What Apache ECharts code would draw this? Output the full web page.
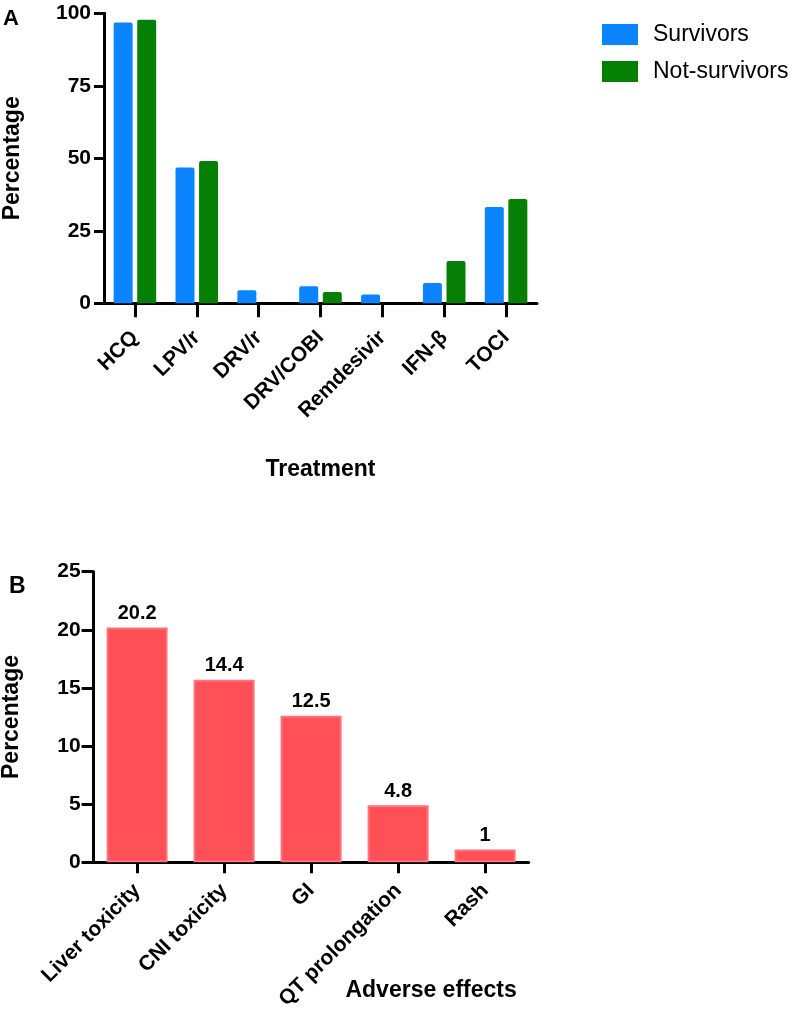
<!DOCTYPE html>
<html>
<head>
<meta charset="utf-8">
<script src="https://cdn.jsdelivr.net/npm/echarts@6/dist/echarts.min.js"></script>
<style>
html,body{margin:0;padding:0;background:#fff;}
#c{width:796px;height:1012px;}
</style>
</head>
<body>
<div id="c"></div>
<script>
// ---- Panel A data ----
const treatments = ['HCQ', 'LPV/r', 'DRV/r', 'DRV/COBI', 'Remdesivir', 'IFN-β', 'TOCI'];
const survivors = [96.8, 46.8, 4.5, 5.9, 3.0, 7.0, 33.2];
const notSurvivors = [97.8, 49.1, 0, 3.9, 0, 14.6, 36.0];
const yTicksA = [0, 25, 50, 75, 100];

// ---- Panel B data ----
const adverseEffects = ['Liver toxicity', 'CNI toxicity', 'GI', 'QT prolongation', 'Rash'];
const adverseValues = [20.2, 15.7, 12.6, 4.9, 1.1];
const adverseLabels = ['20.2', '14.4', '12.5', '4.8', '1'];
const yTicksB = [0, 5, 10, 15, 20, 25];

const FONT = 'Liberation Sans, Arial, Helvetica, sans-serif';
const axisLine = { show: true, lineStyle: { color: '#000', width: 3 } };

const chart = echarts.init(document.getElementById('c'), null, { renderer: 'canvas' });
chart.setOption({
  backgroundColor: '#fff',
  animation: false,
  legend: {
    data: ['Survivors', 'Not-survivors'],
    orient: 'vertical',
    left: 602, top: 23, padding: 0,
    itemWidth: 36, itemHeight: 21, itemGap: 14,
    icon: 'rect',
    textStyle: { fontFamily: FONT, fontSize: 23, color: '#000', padding: [0, 0, 0, 10] }
  },
  graphic: [
    { type: 'text', left: 3, top: 8, style: { text: 'A', font: 'bold 22px ' + FONT, fill: '#000' } },
    { type: 'text', left: 9, top: 575, style: { text: 'B', font: 'bold 23px ' + FONT, fill: '#000' } }
  ],
  grid: [
    { left: 104, top: 13.3, width: 433, height: 290, outerBoundsMode: 'none', containLabel: false },
    { left: 93.6, top: 571.7, width: 435, height: 290.6, outerBoundsMode: 'none', containLabel: false }
  ],
  xAxis: [
    {
      gridIndex: 0, type: 'category', data: treatments,
      name: 'Treatment', nameLocation: 'middle', nameGap: 155, nameMoveOverlap: false,
      nameTextStyle: { fontFamily: FONT, fontWeight: 'bold', fontSize: 23, color: '#000' },
      axisLine: axisLine,
      axisTick: { show: true, alignWithLabel: true, length: 14, lineStyle: { color: '#000', width: 3 } },
      axisLabel: { rotate: 45, margin: 31, interval: 0, fontFamily: FONT, fontWeight: 'bold', fontSize: 21, color: '#000' }
    },
    {
      gridIndex: 1, type: 'category', data: adverseEffects,
      name: 'Adverse effects', nameLocation: 'middle', nameGap: 117, nameMoveOverlap: false,
      nameTextStyle: { fontFamily: FONT, fontWeight: 'bold', fontSize: 23, color: '#000', padding: [0, 0, 0, 240] },
      axisLine: axisLine,
      axisTick: { show: true, alignWithLabel: true, length: 11, lineStyle: { color: '#000', width: 3 } },
      axisLabel: { rotate: 45, margin: 25, interval: 0, fontFamily: FONT, fontWeight: 'bold', fontSize: 21, color: '#000' }
    }
  ],
  yAxis: [
    {
      gridIndex: 0, type: 'value', min: yTicksA[0], max: yTicksA[yTicksA.length - 1], interval: 25,
      name: 'Percentage', nameLocation: 'middle', nameGap: 80, nameRotate: 90, nameMoveOverlap: false,
      nameTextStyle: { fontFamily: FONT, fontWeight: 'bold', fontSize: 23, color: '#000' },
      axisLine: axisLine,
      axisTick: { show: true, length: 10, lineStyle: { color: '#000', width: 3 } },
      splitLine: { show: false },
      axisLabel: { margin: 13, fontFamily: FONT, fontWeight: 'bold', fontSize: 21, color: '#000' }
    },
    {
      gridIndex: 1, type: 'value', min: yTicksB[0], max: yTicksB[yTicksB.length - 1], interval: 5,
      name: 'Percentage', nameLocation: 'middle', nameGap: 70, nameRotate: 90, nameMoveOverlap: false,
      nameTextStyle: { fontFamily: FONT, fontWeight: 'bold', fontSize: 23, color: '#000' },
      axisLine: axisLine,
      axisTick: { show: true, length: 12, lineStyle: { color: '#000', width: 3 } },
      splitLine: { show: false },
      axisLabel: { margin: 13, fontFamily: FONT, fontWeight: 'bold', fontSize: 21, color: '#000' }
    }
  ],
  series: [
    {
      name: 'Survivors', type: 'bar', xAxisIndex: 0, yAxisIndex: 0, data: survivors,
      barWidth: 19, barGap: '24%',
      itemStyle: { color: '#0A84FF', borderRadius: [2, 2, 0, 0] }
    },
    {
      name: 'Not-survivors', type: 'bar', xAxisIndex: 0, yAxisIndex: 0, data: notSurvivors,
      barWidth: 19, barGap: '24%',
      itemStyle: { color: '#058005', borderRadius: [2, 2, 0, 0] }
    },
    {
      name: 'Adverse effects', type: 'bar', xAxisIndex: 1, yAxisIndex: 1,
      data: adverseValues, barWidth: 61,
      itemStyle: { color: '#FF4F57', borderColor: '#FF7378', borderWidth: 2 },
      label: {
        show: true, position: 'top', distance: 4,
        formatter: p => adverseLabels[p.dataIndex],
        fontFamily: FONT, fontWeight: 'bold', fontSize: 20, color: '#000'
      }
    }
  ]
});
</script>
</body>
</html>
